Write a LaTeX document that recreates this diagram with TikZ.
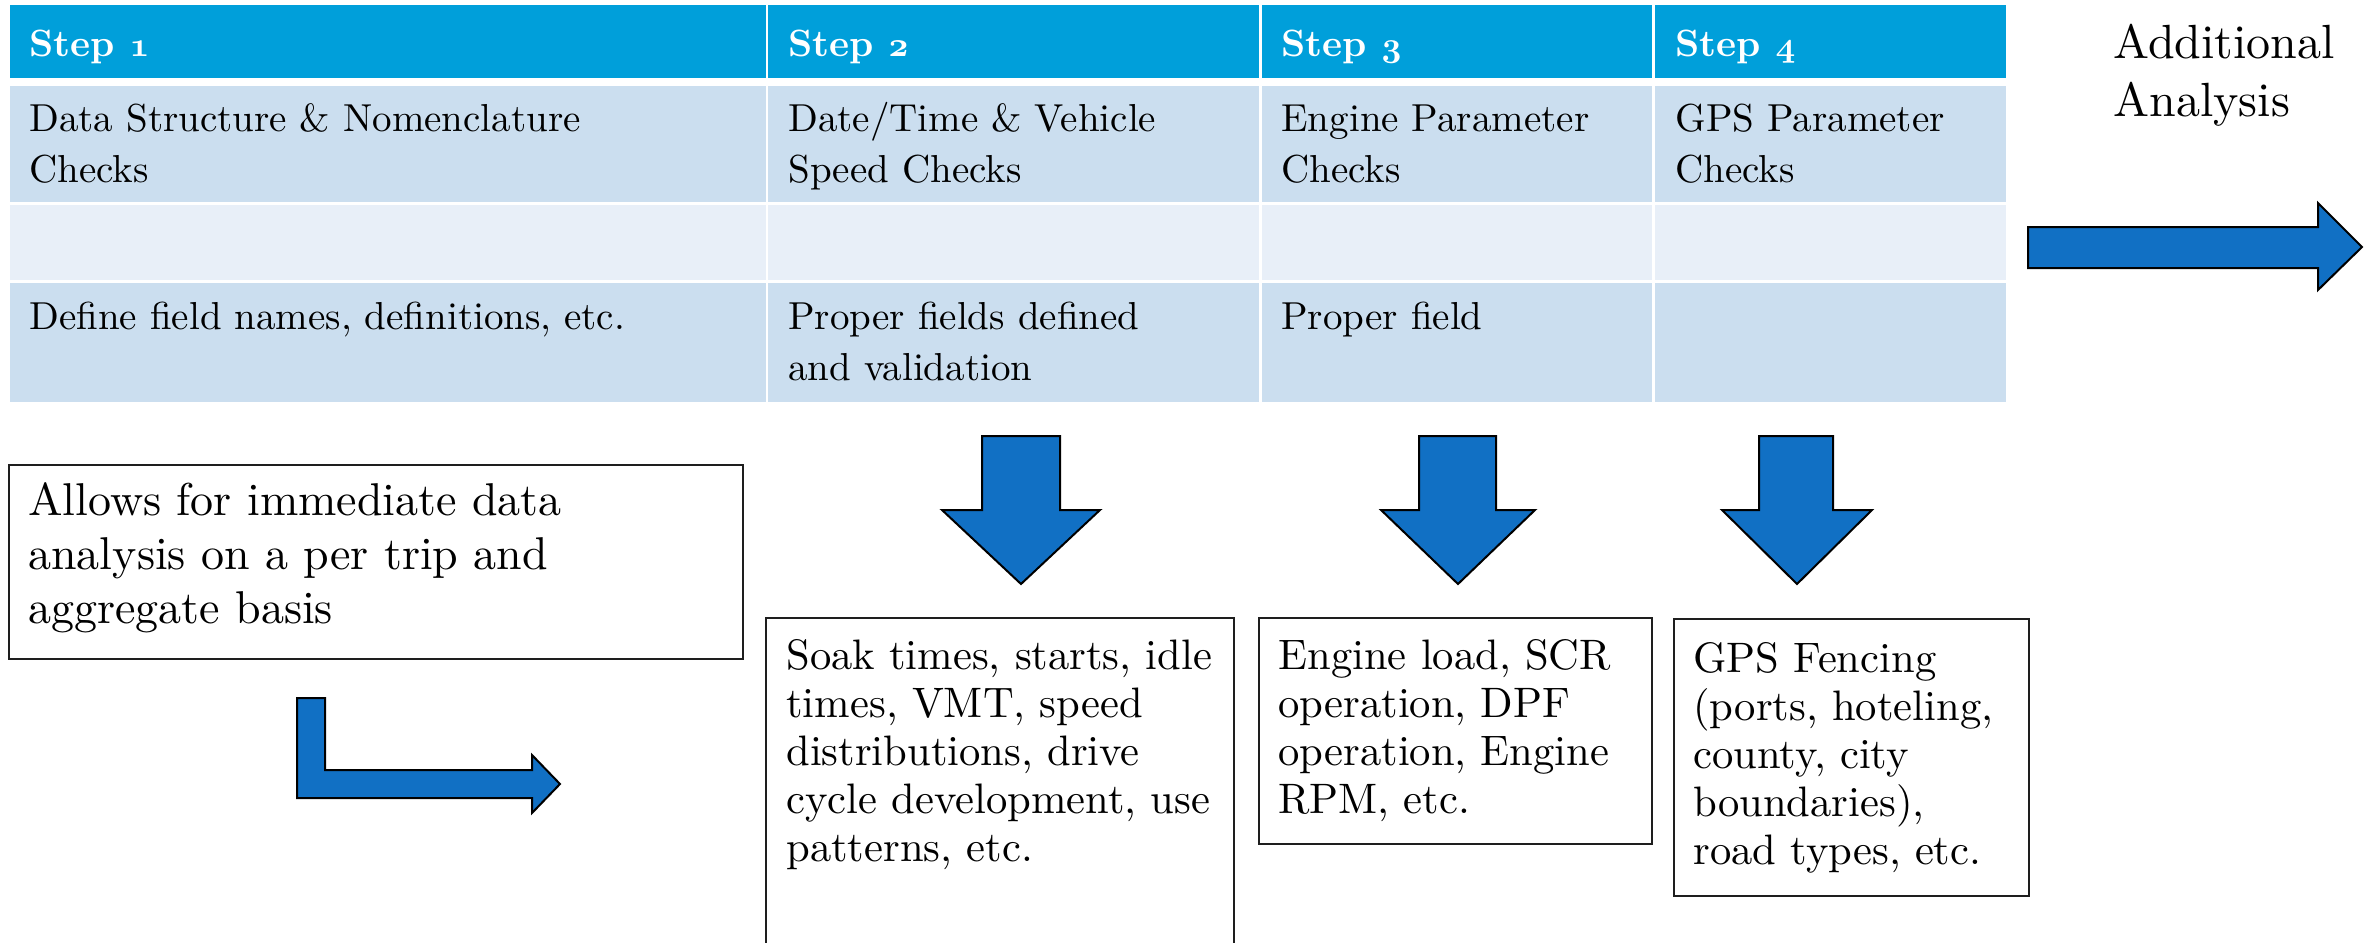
\documentclass[tikz,border=0pt]{standalone}
\usepackage{fontspec}
\setmainfont{lmroman10-regular.otf}[BoldFont=lmroman10-bold.otf]
\usepackage{tikz}
\definecolor{hdr}{RGB}{0,159,218}
\definecolor{rowA}{RGB}{203,222,239}
\definecolor{rowB}{RGB}{232,239,248}
\definecolor{arrowblue}{RGB}{17,112,196}
\definecolor{boxline}{RGB}{30,30,30}
\newcommand\osn[1]{{\usefont{OML}{cmm}{b}{it}#1}}
\tikzset{
  celltext/.style={anchor=north west, inner sep=0pt, align=left, font=\fontsize{19.5}{25.5}\selectfont},
  hdrtext/.style={anchor=north west, inner sep=0pt, align=left, text=white, font=\fontsize{19}{25.5}\selectfont\bfseries},
  boxtext/.style={anchor=north west, inner sep=0pt, align=left, font=\fontsize{21.3}{24}\selectfont},
  bigtext/.style={anchor=north west, inner sep=0pt, align=left, font=\fontsize{23}{27}\selectfont},
  blockarrow/.style={fill=arrowblue, draw=black, line width=1pt, line join=miter},
  outbox/.style={draw=boxline, line width=1pt, fill=white},
}
\begin{document}
\begin{tikzpicture}[x=0.5pt,y=-0.5pt]
\useasboundingbox (0,0) rectangle (2371,942);
% table backgrounds
\fill[hdr] (10,5) rectangle (766,78);
\fill[hdr] (768,5) rectangle (1259,78);
\fill[hdr] (1262,5) rectangle (1652,78);
\fill[hdr] (1655,5) rectangle (2006,78);
\fill[rowA] (10,86) rectangle (766,202);
\fill[rowA] (768,86) rectangle (1259,202);
\fill[rowA] (1262,86) rectangle (1652,202);
\fill[rowA] (1655,86) rectangle (2006,202);
\fill[rowB] (10,205) rectangle (766,280);
\fill[rowB] (768,205) rectangle (1259,280);
\fill[rowB] (1262,205) rectangle (1652,280);
\fill[rowB] (1655,205) rectangle (2006,280);
\fill[rowA] (10,283) rectangle (766,402);
\fill[rowA] (768,283) rectangle (1259,402);
\fill[rowA] (1262,283) rectangle (1652,402);
\fill[rowA] (1655,283) rectangle (2006,402);
% header texts
\node[hdrtext] (h1) at (29,20.3) {\strut Step \osn{1}};
\node[hdrtext] (h2) at (788,20.3) {\strut Step \osn{2}};
\node[hdrtext] (h3) at (1281,20.3) {\strut Step \osn{3}};
\node[hdrtext] (h4) at (1675,20.3) {\strut Step \osn{4}};
% row 2
\node[celltext] (r21) at (29,95.3) {\strut Data Structure \& Nomenclature\\Checks};
\node[celltext] (r22) at (788,95.3) {\strut Date/Time \& Vehicle\\Speed Checks};
\node[celltext] (r23) at (1281,95.3) {\strut Engine Parameter\\Checks};
\node[celltext] (r24) at (1675,95.3) {\strut GPS Parameter\\Checks};
% row 4
\node[celltext] (r41) at (29,293.3) {\strut Define field names, definitions, etc.};
\node[celltext] (r42) at (788,293.3) {\strut Proper fields defined\\and validation};
\node[celltext] (r43) at (1281,293.3) {\strut Proper field};
% additional analysis
\node[bigtext, font=\fontsize{24}{29}\selectfont] (add) at (2113,17.4) {\strut Additional\\Analysis};
\draw[blockarrow] (2028,227) -- (2318,227) -- (2318,203) -- (2362,247) -- (2318,290) -- (2318,268) -- (2028,268) -- cycle;
% allows box
\node[outbox, anchor=north west, minimum width=367pt, minimum height=97pt, inner sep=0pt] (allows) at (8,464) {};
\node[bigtext] (allowst) at (28,477.2) {\strut Allows for immediate data\\analysis on a per trip and\\aggregate basis};
% L arrow
\draw[blockarrow] (297,698) -- (325,698) -- (325,770) -- (532,770) -- (532,755) -- (560,784) -- (532,813) -- (532,798) -- (297,798) -- cycle;
% down arrows
\draw[blockarrow] (982,436) -- (1060,436) -- (1060,510) -- (1100,510) -- (1021,584) -- (942,510) -- (982,510) -- cycle;
\draw[blockarrow] (1419,436) -- (1496,436) -- (1496,510) -- (1535,510) -- (1458,584) -- (1381,510) -- (1419,510) -- cycle;
\draw[blockarrow] (1759,436) -- (1833,436) -- (1833,510) -- (1872,510) -- (1797,584) -- (1722,510) -- (1759,510) -- cycle;
% result boxes
\node[outbox, anchor=north west, minimum width=234pt, minimum height=165pt, inner sep=0pt] (b2) at (765,617) {};
\node[boxtext] (b2t) at (786,635.4) {\strut Soak times, starts, idle\\times, VMT, speed\\distributions, drive\\cycle development, use\\patterns, etc.};
\node[outbox, anchor=north west, minimum width=196.5pt, minimum height=113pt, inner sep=0pt] (b3) at (1258,617) {};
\node[boxtext] (b3t) at (1278,635.4) {\strut Engine load, SCR\\operation, DPF\\operation, Engine\\RPM, etc.};
\node[outbox, anchor=north west, minimum width=177.5pt, minimum height=138.5pt, inner sep=0pt] (b4) at (1673,618) {};
\node[boxtext] (b4t) at (1693,638.4) {\strut GPS Fencing\\(ports, hoteling,\\county, city\\boundaries),\\road types, etc.};
\end{tikzpicture}
\end{document}
